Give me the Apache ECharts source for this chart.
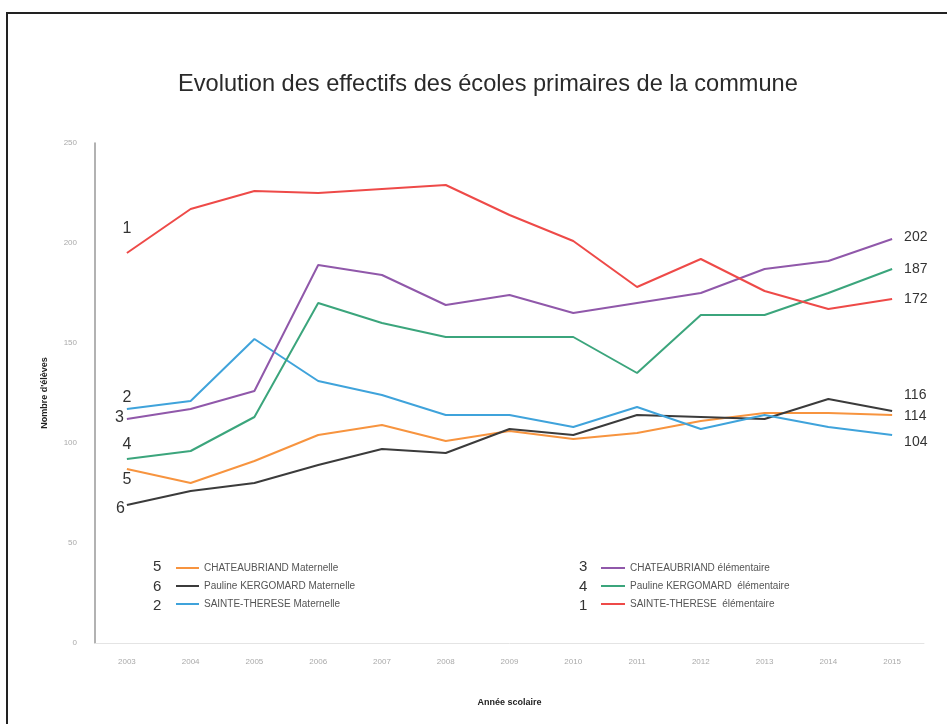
<!DOCTYPE html>
<html>
<head>
<meta charset="utf-8">
<script src="https://cdn.jsdelivr.net/npm/echarts@6/dist/echarts.min.js"></script>
<style>
html,body{margin:0;padding:0;background:#fff;}
#chart{width:947px;height:724px;}
</style>
</head>
<body>
<div id="chart"></div>
<script>
const categories = ['2003','2004','2005','2006','2007','2008','2009','2010','2011','2012','2013','2014','2015'];
const yTicks = [0, 50, 100, 150, 200, 250];

// values
const steElem = [195,217,226,225,227,229,214,201,178,192,176,167,172]; // 1
const steMat  = [117,121,152,131,124,114,114,108,118,107,114,108,104]; // 2
const chaElem = [112,117,126,189,184,169,174,165,170,175,187,191,202]; // 3
const pkElem  = [92,96,113,170,160,153,153,153,135,164,164,175,187];   // 4
const chaMat  = [87,80,91,104,109,101,106,102,105,111,115,115,114];    // 5
const pkMat   = [69,76,80,89,97,95,107,104,114,113,112,122,116];       // 6

const seriesNames = [
  'CHATEAUBRIAND Maternelle',
  'Pauline KERGOMARD Maternelle',
  'SAINTE-THERESE Maternelle',
  'CHATEAUBRIAND élémentaire',
  'Pauline KERGOMARD  élémentaire',
  'SAINTE-THERESE  élémentaire'
];
const seriesNums = ['5','6','2','3','4','1'];
const seriesData = [chaMat, pkMat, steMat, chaElem, pkElem, steElem];
const colors = ['#F7943F','#3b3b3b','#3FA3DB','#9058AA','#3BA57C','#EE4A48'];

// label placement (style only)
const startLbl = [
  {position:'bottom', distance:3},
  {position:'left', distance:2, offset:[0,4]},
  {position:'top', distance:3},
  {position:'left', distance:3, offset:[0,-1]},
  {position:'top', distance:6},
  {position:'top', distance:16}
];
const endLbl = [
  {offset:[0,1]},
  {offset:[0,-16]},
  {offset:[0,7]},
  {offset:[0,-2]},
  {offset:[0,0]},
  {offset:[0,0]}
];

const series = seriesData.map((vals, i) => ({
  name: seriesNames[i],
  type: 'line',
  showSymbol: true,
  symbol: 'circle',
  symbolSize: 0.01,
  lineStyle: {width: 2, color: colors[i]},
  itemStyle: {color: colors[i]},
  z: 2 + i,
  label: {show: false},
  data: vals.map((v, j) => {
    if (j === 0) {
      return {value: v, label: Object.assign({show: true, formatter: seriesNums[i], fontSize: 16,
        color: '#333', fontFamily: 'Liberation Sans'}, startLbl[i])};
    }
    if (j === vals.length - 1) {
      return {value: v, label: Object.assign({show: true, position: 'right', distance: 12,
        formatter: '{c}', fontSize: 14, color: '#333', fontFamily: 'Liberation Sans'}, endLbl[i])};
    }
    return v;
  })
}));

const chart = echarts.init(document.getElementById('chart'), null, {renderer: 'canvas'});
const legendText = {fontSize: 10, color: '#555', fontFamily: 'Liberation Sans'};
chart.setOption({
  animation: false,
  backgroundColor: '#fff',
  title: {
    text: 'Evolution des effectifs des écoles primaires de la commune',
    left: 173, top: 67,
    textStyle: {fontSize: 23.6, fontWeight: 'normal', color: '#2a2a2a', fontFamily: 'Liberation Sans'}
  },
  legend: [
    {
      data: seriesNames.slice(0, 3),
      orient: 'vertical', left: 171, top: 558,
      icon: 'rect', itemWidth: 23, itemHeight: 2, itemGap: 8,
      textStyle: legendText
    },
    {
      data: seriesNames.slice(3, 6),
      orient: 'vertical', left: 596, top: 558,
      icon: 'rect', itemWidth: 24, itemHeight: 2, itemGap: 8,
      textStyle: legendText
    }
  ],
  grid: {left: 95, right: 23, top: 143, bottom: 81},
  xAxis: {
    type: 'category',
    data: categories,
    boundaryGap: true,
    axisLine: {show: true, lineStyle: {color: '#e4e4e4'}},
    axisTick: {show: false},
    axisLabel: {color: '#aaa', fontSize: 8, margin: 15, fontFamily: 'Liberation Sans'},
    name: 'Année scolaire',
    nameLocation: 'middle',
    nameGap: 55,
    nameTextStyle: {fontSize: 9, fontWeight: 'bold', color: '#222', fontFamily: 'Liberation Sans'}
  },
  yAxis: {
    type: 'value',
    min: yTicks[0], max: yTicks[yTicks.length - 1], interval: 50,
    axisLine: {show: true, lineStyle: {color: '#999', width: 1.5}},
    axisTick: {show: false},
    splitLine: {show: false},
    axisLabel: {color: '#aaa', fontSize: 8, margin: 18, fontFamily: 'Liberation Sans'},
    name: "Nombre d'élèves",
    nameLocation: 'middle',
    nameGap: 46,
    nameTextStyle: {fontSize: 9, fontWeight: 'bold', color: '#222', fontFamily: 'Liberation Sans'}
  },
  graphic: [
    {type: 'rect', shape: {x: 7, y: 13, width: 960, height: 730},
     style: {fill: 'none', stroke: '#222', lineWidth: 2}, silent: true},
    {type: 'text', left: 153, top: 559, style: {text: seriesNums[0], fontSize: 15, fill: '#333', fontFamily: 'Liberation Sans'}},
    {type: 'text', left: 153, top: 579, style: {text: seriesNums[1], fontSize: 15, fill: '#333', fontFamily: 'Liberation Sans'}},
    {type: 'text', left: 153, top: 598, style: {text: seriesNums[2], fontSize: 15, fill: '#333', fontFamily: 'Liberation Sans'}},
    {type: 'text', left: 579, top: 559, style: {text: seriesNums[3], fontSize: 15, fill: '#333', fontFamily: 'Liberation Sans'}},
    {type: 'text', left: 579, top: 579, style: {text: seriesNums[4], fontSize: 15, fill: '#333', fontFamily: 'Liberation Sans'}},
    {type: 'text', left: 579, top: 598, style: {text: seriesNums[5], fontSize: 15, fill: '#333', fontFamily: 'Liberation Sans'}}
  ],
  series: series
});
</script>
</body>
</html>
